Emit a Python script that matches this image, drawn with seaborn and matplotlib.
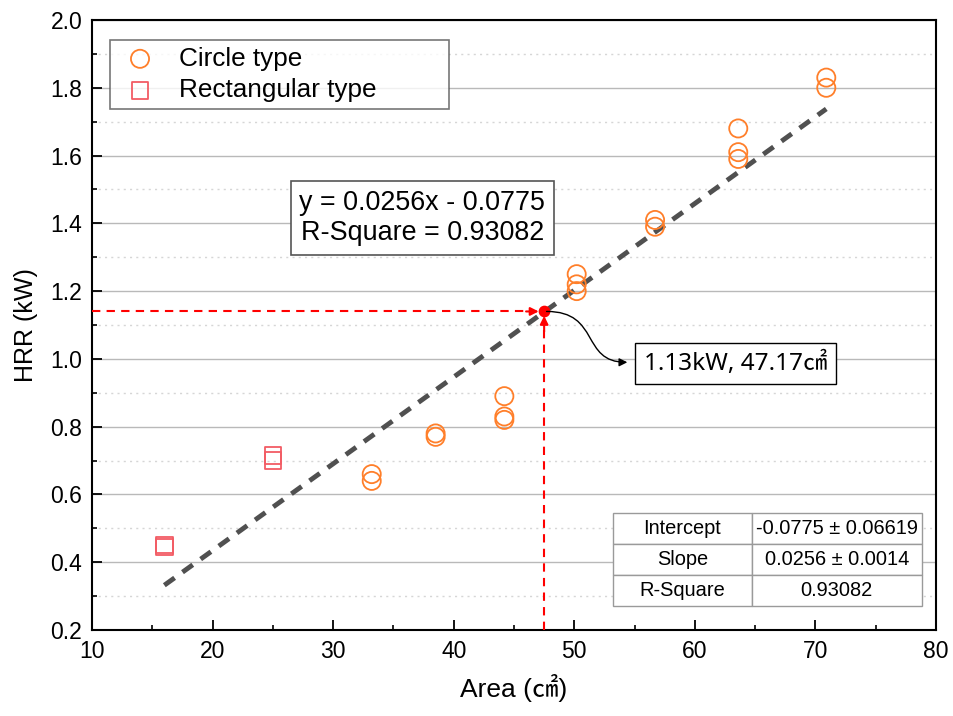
import matplotlib
matplotlib.use("Agg")
import matplotlib.pyplot as plt
from matplotlib.ticker import MultipleLocator
from matplotlib.patches import FancyArrowPatch
from matplotlib.path import Path
import numpy as np
import pandas as pd
import seaborn as sns

# ---- data ----
circle_area = [33.2, 33.2, 38.5, 38.5, 44.2, 44.2, 44.2, 50.2, 50.2, 50.2,
               56.7, 56.7, 63.6, 63.6, 63.6, 70.9, 70.9]
circle_hrr = [0.66, 0.64, 0.78, 0.77, 0.89, 0.83, 0.82, 1.25, 1.22, 1.20,
              1.41, 1.39, 1.68, 1.61, 1.59, 1.83, 1.80]
rect_area = [16.0, 16.0, 25.0, 25.0]
rect_hrr = [0.45, 0.445, 0.715, 0.70]
slope = 0.0256
intercept = -0.0775
fit_range = [16.0, 70.9]
point_area = 47.5
point_hrr = 1.14
eq_text = "y = 0.0256x - 0.0775\nR-Square = 0.93082"
point_text = "1.13kW, 47.17\u33A0"
table_rows = [["Intercept", "-0.0775 \u00B1 0.06619"],
              ["Slope", "0.0256 \u00B1 0.0014"],
              ["R-Square", "0.93082"]]
yticks = [0.2, 0.4, 0.6, 0.8, 1.0, 1.2, 1.4, 1.6, 1.8, 2.0]
ytick_labels = ["0.2", "0.4", "0.6", "0.8", "1.0", "1.2", "1.4", "1.6", "1.8", "2.0"]

circle_color = "#FF7F2A"
rect_color = "#F25C64"

sns.set_theme(style="white")
plt.rcParams['font.family'] = ['Liberation Sans', 'Noto Sans CJK KR', 'DejaVu Sans']
plt.rcParams['text.color'] = 'black'
plt.rcParams['axes.labelcolor'] = 'black'
plt.rcParams['xtick.color'] = 'black'
plt.rcParams['ytick.color'] = 'black'

fig = plt.figure(figsize=(9.54, 7.16), dpi=100)
ax = fig.add_axes([92/954, 86/716, 844/954, 610/716])

df_c = pd.DataFrame({"Area": circle_area, "HRR": circle_hrr})
df_r = pd.DataFrame({"Area": rect_area, "HRR": rect_hrr})

fit_x = np.array(fit_range)
df_fit = pd.DataFrame({"Area": fit_x, "HRR": slope * fit_x + intercept})
sns.lineplot(data=df_fit, x="Area", y="HRR", ax=ax, color="#505050", lw=3.5,
             linestyle=(0, (2.6, 2.0)), zorder=3)

sns.scatterplot(data=df_c, x="Area", y="HRR", ax=ax, marker="o", s=170,
                facecolor="none", edgecolor=circle_color, linewidth=1.3,
                label="Circle type", zorder=4)
sns.scatterplot(data=df_r, x="Area", y="HRR", ax=ax, marker="s", s=140,
                facecolor="none", edgecolor=rect_color, linewidth=1.3,
                label="Rectangular type", zorder=4)

ax.set_xlim(10, 80)
ax.set_ylim(0.2, 2.0)
ax.xaxis.set_major_locator(MultipleLocator(10))
ax.xaxis.set_minor_locator(MultipleLocator(5))
ax.yaxis.set_minor_locator(MultipleLocator(0.1))
ax.set_yticks(yticks)
ax.set_yticklabels(ytick_labels)
ax.grid(False)
ax.grid(True, axis="y", which="major", color="#b9b9b9", lw=1.0, ls="-", zorder=0)
ax.grid(True, axis="y", which="minor", color="#d6d6d6", lw=1.0, ls=(0, (1.5, 3)), zorder=0)
ax.tick_params(axis="both", which="major", direction="in", length=7.5, width=1.3,
               labelsize=16.5, pad=7, bottom=True, left=True, top=False, right=False,
               colors="black")
ax.tick_params(axis="both", which="minor", direction="in", length=3.8, width=1.2,
               bottom=True, left=True, top=False, right=False, colors="black")
for sp in ax.spines.values():
    sp.set_color("black")
    sp.set_linewidth(1.5)

ax.set_xlabel("Area (\u33A0)", fontsize=19, labelpad=8, color="black")
ax.set_ylabel("HRR (kW)", fontsize=18, labelpad=9, color="black")

# red reference lines
ax.plot([10, point_area - 0.9], [point_hrr, point_hrr], color="red", lw=1.5,
        ls=(0, (4, 3)), zorder=5)
ax.plot([point_area, point_area], [0.2, point_hrr - 0.03], color="red", lw=1.5,
        ls=(0, (4, 3)), zorder=5)
ax.annotate("", xy=(point_area - 0.45, point_hrr), xytext=(point_area - 1.5, point_hrr),
            arrowprops=dict(arrowstyle="-|>", color="red", lw=1.5, mutation_scale=12,
                            shrinkA=0, shrinkB=0), zorder=6)
ax.annotate("", xy=(point_area, point_hrr - 0.013), xytext=(point_area, point_hrr - 0.06),
            arrowprops=dict(arrowstyle="-|>", color="red", lw=1.5, mutation_scale=12,
                            shrinkA=0, shrinkB=0), zorder=6)
ax.scatter([point_area], [point_hrr], s=55, color="red", zorder=7)

# curved S-shaped connector to annotation box
curve = Path([(point_area + 0.2, point_hrr), (52.2, point_hrr), (50.5, 0.99), (54.4, 0.99)],
             [Path.MOVETO, Path.CURVE4, Path.CURVE4, Path.CURVE4])
ax.add_patch(FancyArrowPatch(path=curve, arrowstyle="-|>", mutation_scale=12,
                             color="black", lw=1.0, zorder=8))
ax.text(63.36, 0.986, point_text, fontsize=17.5, ha="center", va="center",
        family=['Noto Sans', 'Noto Sans CJK KR', 'DejaVu Sans'], color="black",
        bbox=dict(boxstyle="square,pad=0.35", fc="white", ec="black", lw=1.0),
        zorder=8)

# equation box
ax.text(37.4, 1.416, eq_text, fontsize=19.4, ha="center", va="center",
        linespacing=1.2, color="black",
        bbox=dict(boxstyle="square,pad=0.33", fc="white", ec="#555555", lw=1.2),
        zorder=8)

# legend
leg = ax.legend(loc="upper left", bbox_to_anchor=(0.0213, 0.855, 0.4017, 0.112),
                mode="expand", borderaxespad=0,
                fontsize=18.8, frameon=True, fancybox=False, edgecolor="#555555",
                handletextpad=0.6, borderpad=0.25, labelspacing=0.3,
                handlelength=1.8)
leg.get_frame().set_linewidth(1.2)
for t in leg.get_texts():
    t.set_color("black")

# stats table
tbl = ax.table(cellText=table_rows, cellLoc="center", colWidths=[0.45, 0.55],
               bbox=[0.617, 0.039, 0.366, 0.152], zorder=9)
tbl.auto_set_font_size(False)
tbl.set_fontsize(14.4)
for (r, c), cell in tbl.get_celld().items():
    cell.set_edgecolor("#9a9a9a")
    cell.set_linewidth(1.0)
    cell.set_facecolor("white")
    cell.get_text().set_color("black")

fig.savefig("out.png", dpi=100)
